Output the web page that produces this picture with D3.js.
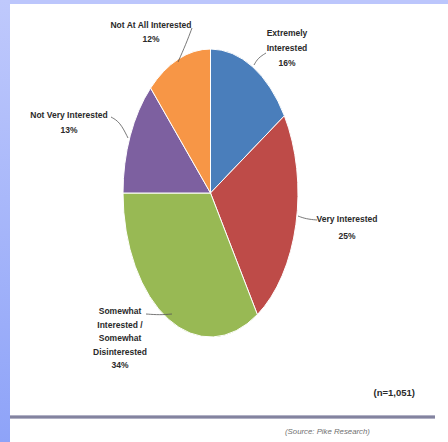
<!DOCTYPE html>
<html>
<head>
<meta charset="utf-8">
<script src="https://cdn.jsdelivr.net/npm/d3@7/dist/d3.min.js"></script>
<style>
  html, body { margin: 0; padding: 0; background: #fff; }
  svg { display: block; }
  .lbl { font-family: "Liberation Sans Narrow", "Arial Narrow", "Liberation Sans", sans-serif; font-weight: bold; font-size: 8.5px; fill: #2a2a2a; }
</style>
</head>
<body>
<svg id="chart" width="448" height="442"></svg>
<script>
// Survey: interest in the product (n = 1,051)
const categories = [
  "Extremely Interested",
  "Very Interested",
  "Somewhat Interested / Somewhat Disinterested",
  "Not Very Interested",
  "Not At All Interested"
];
const shares = [16, 25, 34, 13, 12];
const sliceColors = ["#4a7ebb", "#be4b48", "#98b954", "#7d60a0", "#f79646"];
const labelLines = [
  ["Extremely", "Interested", "16%"],
  ["Very Interested", "25%"],
  ["Somewhat", "Interested /", "Somewhat", "Disinterested", "34%"],
  ["Not Very Interested", "13%"],
  ["Not At All Interested", "12%"]
];
const sampleNote = "(n=1,051)";
const sourceNote = "(Source: Pike Research)";

const W = 448, H = 442;
const svg = d3.select("#chart");
const defs = svg.append("defs");

// Slide frame: blue strip on the left, pale band on top
const sideGrad = defs.append("linearGradient").attr("id", "side").attr("x1", 0).attr("y1", 0).attr("x2", 0).attr("y2", 1);
sideGrad.append("stop").attr("offset", "0%").attr("stop-color", "#bfc9fc");
sideGrad.append("stop").attr("offset", "100%").attr("stop-color", "#8ea3f8");
svg.append("rect").attr("x", 0).attr("y", 0).attr("width", W).attr("height", 4).attr("fill", "#bcc6fc");
svg.append("rect").attr("x", 0).attr("y", 0).attr("width", 10).attr("height", H).attr("fill", "url(#side)");

// Pie (drawn as an ellipse, as in the stretched chart)
const cx = 210.5, cy = 193, rx = 87.5, ry = 144;
const pie = d3.pie().sort(null).value(d => d);
const arcs = pie(shares);
const arc = d3.arc().innerRadius(0).outerRadius(ry);

const pieG = svg.append("g").attr("transform", `translate(${cx},${cy}) scale(${rx / ry},1)`);
pieG.selectAll("path")
  .data(arcs)
  .join("path")
  .attr("d", arc)
  .attr("fill", (d, i) => sliceColors[i])
  .attr("stroke", "#ffffff")
  .attr("stroke-width", 1)
  .attr("vector-effect", "non-scaling-stroke");

// Label anchors (text block centre x, first baseline y) and leader ends
const labelPos = [
  { x: 287, y: 36, dy: 15, lead: [[266, 53], [258, 58], [254, 65]] },
  { x: 347, y: 222, dy: 17, lead: [[317, 220], [306, 219], [298, 216]] },
  { x: 120, y: 314, dy: 13.5, lead: [[146, 314], [160, 315], [172, 314]] },
  { x: 69, y: 118, dy: 15, lead: [[111, 117], [120, 122], [128, 138]] },
  { x: 151, y: 28, dy: 14, lead: [[192, 28], [186, 44], [178, 62]] }
];

const line = d3.line().curve(d3.curveBasis);
const labG = svg.append("g");
labelLines.forEach((lines, i) => {
  const p = labelPos[i];
  const t = labG.append("text").attr("class", "lbl").attr("text-anchor", "middle");
  lines.forEach((s, j) => {
    t.append("tspan").attr("x", p.x).attr("y", p.y + j * p.dy).text(s);
  });
  labG.append("path")
    .attr("d", line(p.lead))
    .attr("fill", "none")
    .attr("stroke", "#555")
    .attr("stroke-width", 0.8);
});

// Sample size note
svg.append("text").attr("class", "lbl")
  .attr("x", 415).attr("y", 396).attr("text-anchor", "end")
  .style("font-size", "9.5px")
  .text(sampleNote);

// Footer rule
const ruleGrad = defs.append("linearGradient").attr("id", "rule").attr("x1", 0).attr("y1", 0).attr("x2", 0).attr("y2", 1);
ruleGrad.append("stop").attr("offset", "0%").attr("stop-color", "#c8c8d8");
ruleGrad.append("stop").attr("offset", "50%").attr("stop-color", "#6c6c8c");
ruleGrad.append("stop").attr("offset", "100%").attr("stop-color", "#c8c8d8");
svg.append("rect").attr("x", 10).attr("y", 415).attr("width", 425).attr("height", 4).attr("fill", "url(#rule)");

// Source credit
svg.append("text")
  .attr("x", 285).attr("y", 434)
  .style("font-family", "'Liberation Sans Narrow', 'Arial Narrow', sans-serif")
  .style("font-size", "7.8px")
  .style("font-style", "italic")
  .style("fill", "#707070")
  .text(sourceNote);
</script>
</body>
</html>
